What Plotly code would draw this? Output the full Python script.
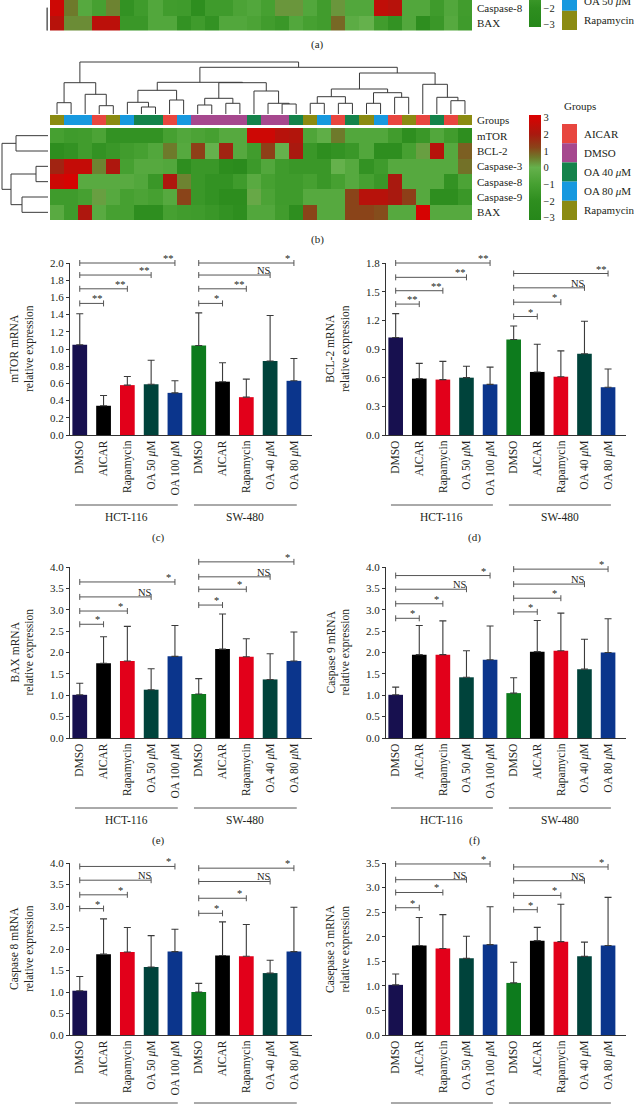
import plotly.graph_objects as go

W, H = 634, 1105
FONT = "Liberation Serif"
INK = "#231f20"

# ---------------- heatmap data ----------------
n_cols = 30
# (a) visible rows (top of figure is cropped)
genes_a = ["Caspase-8", "BAX"]
casp8_a = [2.8, 0.6, -0.5, -1.0, 0.5, -1.8, -1.3, -0.6, -1.2, -1.3, -2.0, -1.3, -1.3, -0.8, -0.6,
           -1.0, 0.3, 0.3, -0.6, -1.2, 0.3, -0.6, -0.6, 2.5, 2.3, -0.6, -0.6, -1.3, -0.6, -1.2]
bax_a = [2.3, 0.4, 0.4, 2.4, 2.4, -1.5, -1.5, -0.6, -0.6, -1.8, -1.3, -1.8, -0.6, -0.6, -0.8,
         -1.2, -1.5, -0.6, -1.0, -1.2, 0.8, -0.3, 0.0, -1.2, -1.8, -0.6, -2.0, -1.5, -0.5, -1.3]
group_names_a = ["AICAR", "DMSO", "OA 100 μM", "OA 50 μM", "Rapamycin"]

# (b)
genes_b = ["mTOR", "BCL-2", "Caspase-3", "Caspase-8", "Caspase-9", "BAX"]
group_names_b = ["AICAR", "DMSO", "OA 40 μM", "OA 80 μM", "Rapamycin"]
col_groups_b = [4, 3, 3, 0, 4, 3, 2, 2, 0, 3, 1, 1, 1, 1, 2, 1, 1, 2, 4, 3, 0, 2, 4, 3, 0, 4, 0, 2, 0, 4]
mtor_b = [-1.0, -1.3, -1.2, -0.8, -1.8, -1.8, -1.8, -1.8, -1.0, -0.6, -0.8, -1.0, -0.5, -0.5, 2.8,
          2.8, 2.3, 2.2, -0.7, -0.2, 0.6, -0.6, -0.6, -0.6, -1.2, -2.0, -1.5, -0.6, -1.2, -2.0]
bcl2_b = [-2.0, -1.8, -1.2, -1.8, -1.5, -1.2, -1.0, -0.6, 0.6, -0.5, 1.3, 0.0, 1.8, -0.5, -1.2,
          1.3, 0.0, 2.0, -1.5, -2.0, -1.8, -1.5, -0.6, -2.0, -2.0, -1.0, 0.2, 2.3, -0.5, 0.9]
casp3_b = [1.8, 2.6, 2.6, 0.5, 2.1, -1.0, -0.5, -0.5, -0.6, -2.0, -1.5, -1.5, -2.2, -2.5, -1.4,
           -0.6, -1.3, -1.5, -1.5, -1.5, 0.0, -0.5, -1.8, -1.3, -0.5, -0.5, -0.5, -0.5, -0.5, 0.7]
casp8_b = [2.8, 3.0, -0.4, -0.4, -0.4, -0.4, -0.6, -1.5, 2.1, 0.5, -1.5, -1.8, -1.8, -1.3, -0.4,
           -1.0, -1.3, -1.3, -1.0, -1.5, -1.0, -0.5, -1.0, -1.5, 2.0, -0.5, -0.5, -0.5, -1.8, -0.8]
casp9_b = [-1.3, -1.3, -1.0, 0.2, -0.5, -1.0, -0.8, -1.0, -0.5, 1.2, -1.5, -1.8, -2.2, -2.2, 0.1,
           -0.8, -1.3, -1.3, -0.5, -0.5, -0.5, 1.2, 2.3, 2.3, 2.0, 1.3, -0.5, -2.0, -2.0, -1.5]
bax_b = [-0.4, -1.3, 2.1, -0.4, -1.0, -1.0, -2.0, -2.0, -1.0, -1.2, -1.3, -1.5, -1.8, -2.0, -0.6,
         -0.6, -1.2, -2.0, 1.2, -0.5, -0.5, 1.2, 1.2, 1.1, -0.5, -0.5, 3.0, -0.5, -0.5, -0.5]

# dendrograms: (name, left, right, height)
col_tree_b = [
    ("A", 0, 1, 11.3), ("B", 3, 4, 8.3), ("C", 2, "B", 19.7), ("D", "A", "C", 31.3),
    ("E", 6, 7, 7.0), ("F", 5, "E", 11.7), ("G", 8, 9, 14.0), ("Hh", "F", "G", 23.7),
    ("I", 10, 11, 9.0), ("J", 12, 13, 10.7), ("K", "I", "J", 15.7),
    ("L", 16, 17, 10.0), ("M", 15, "L", 10.7), ("N", 14, "M", 23.0), ("O", "K", "N", 31.3),
    ("P", "Hh", "O", 31.7),
    ("Q", 18, 19, 10.7), ("R", 20, 21, 10.7), ("S", "Q", "R", 17.3),
    ("T", 22, 23, 10.7), ("U", 24, 25, 16.7), ("V", "T", "U", 21.3), ("Wn", "S", "V", 25.0),
    ("X", 28, 29, 13.3), ("Y", 27, "X", 16.7), ("Z", 26, "Y", 29.7), ("AA", "Wn", "Z", 41.0),
    ("BB", "P", "AA", 46.7), ("ROOT", "D", "BB", 52.0)]
row_tree_b = [("r1", 0, 1, 32), ("r2", 2, 3, 12), ("r3", 4, 5, 26),
              ("r4", "r2", "r3", 37), ("root", "r1", "r4", 46)]
row_tree_a = [("p", 0, 1, 30), ("q", "rows above (cropped)", "p", 36)]
row_leaves_a = {0: 0, 1: 1, "rows above (cropped)": -2.5}

# ---------------- bar chart data ----------------
categories = ["DMSO", "AICAR", "Rapamycin", "OA 50 μM", "OA 100 μM",
              "DMSO", "AICAR", "Rapamycin", "OA 40 μM", "OA 80 μM"]
cell_lines = ["HCT-116", "SW-480"]

mtor_mean = [1.05, 0.34, 0.58, 0.59, 0.49, 1.04, 0.62, 0.44, 0.86, 0.63]
mtor_upper = [1.41, 0.46, 0.68, 0.87, 0.63, 1.42, 0.84, 0.65, 1.39, 0.89]
mtor_sig = ["**", "**", "**", "**", "*", "**", "NS", "*"]
mtor_sig_y = [1.53, 1.70, 1.86, 2.00, 1.53, 1.70, 1.86, 2.00]

bcl2_mean = [1.02, 0.59, 0.58, 0.60, 0.53, 1.00, 0.66, 0.61, 0.85, 0.50]
bcl2_upper = [1.27, 0.75, 0.77, 0.72, 0.71, 1.14, 0.95, 0.88, 1.19, 0.69]
bcl2_sig = ["**", "**", "**", "**", "*", "*", "NS", "**"]
bcl2_sig_y = [1.37, 1.51, 1.65, 1.80, 1.24, 1.39, 1.54, 1.69]

bax_mean = [1.01, 1.75, 1.80, 1.13, 1.91, 1.03, 2.08, 1.90, 1.37, 1.80]
bax_upper = [1.28, 2.37, 2.61, 1.62, 2.63, 1.39, 2.90, 2.32, 1.97, 2.48]
bax_sig = ["*", "*", "NS", "*", "*", "*", "NS", "*"]
bax_sig_y = [2.66, 2.97, 3.30, 3.65, 3.11, 3.48, 3.77, 4.12]

casp9_mean = [1.01, 1.95, 1.95, 1.42, 1.83, 1.05, 2.02, 2.04, 1.61, 2.00]
casp9_upper = [1.19, 2.63, 2.74, 2.04, 2.62, 1.41, 2.75, 2.92, 2.31, 2.79]
casp9_sig = ["*", "*", "NS", "*", "*", "*", "NS", "*"]
casp9_sig_y = [2.80, 3.14, 3.48, 3.80, 2.95, 3.27, 3.60, 3.95]

casp8_mean = [1.03, 1.88, 1.93, 1.58, 1.94, 1.00, 1.85, 1.83, 1.44, 1.94]
casp8_upper = [1.36, 2.70, 2.50, 2.31, 2.46, 1.20, 2.63, 2.57, 1.74, 2.97]
casp8_sig = ["*", "*", "NS", "*", "*", "*", "NS", "*"]
casp8_sig_y = [2.94, 3.26, 3.60, 3.92, 2.83, 3.18, 3.57, 3.88]

casp3_mean = [1.02, 1.82, 1.76, 1.56, 1.84, 1.06, 1.92, 1.90, 1.60, 1.82]
casp3_upper = [1.24, 2.39, 2.45, 2.01, 2.61, 1.48, 2.19, 2.66, 1.89, 2.80]
casp3_sig = ["*", "*", "NS", "*", "*", "*", "NS", "*"]
casp3_sig_y = [2.59, 2.90, 3.16, 3.48, 2.55, 2.84, 3.14, 3.42]

# ---------------- styles / layout constants ----------------
group_colors_b = ["#e8463f", "#a6488e", "#15834b", "#1799df", "#8b8b12"]
group_colors_a = ["#e8463f", "#a6488e", "#15834b", "#1799df", "#8b8b12"]
bar_colors = ["#17104f", "#000000", "#e2001a", "#00433b", "#0b358c",
              "#0d7b1d", "#000000", "#e2001a", "#00433b", "#0b358c"]
ZMIN, ZMAX = -3.15, 3.15
cs_stops = [(-3.15, "#26871a"), (-2, "#2e8e1f"), (-1, "#46a031"), (0, "#65b14c"),
            (0.6, "#6e7a2b"), (1.2, "#8a4419"), (2, "#a9190f"), (3.15, "#dd0000")]
heat_cs = [[(v - ZMIN) / (ZMAX - ZMIN), c] for v, c in cs_stops]


def dxp(a, b):
    return [a / W, b / W]


def dyp(top, bottom):
    return [1 - bottom / H, 1 - top / H]


def pxx(a):
    return a / W


def pxy(t):
    return 1 - t / H


def tree_lines(tree, leaf_pos):
    pos = dict(leaf_pos)
    hgt = {k: 0.0 for k in leaf_pos}
    a, b = [], []
    for name, l, r, h in tree:
        a += [pos[l], pos[l], pos[r], pos[r], None]
        b += [hgt[l], h, h, hgt[r], None]
        pos[name] = (pos[l] + pos[r]) / 2
        hgt[name] = h
    return a, b


def ital(s):
    return s.replace("μ", "<i>μ</i>")


fig = go.Figure()
L = dict(width=W, height=H, margin=dict(l=0, r=0, t=0, b=0, pad=0, autoexpand=False),
         paper_bgcolor="white", plot_bgcolor="rgba(0,0,0,0)", showlegend=False,
         font=dict(family=FONT, color=INK, size=11))
shapes, annots = [], []
HID = dict(visible=False, fixedrange=True)

HX0, HX1 = 50, 472
DEN_COLOR = "#3a3a3a"
CB_X = 529
LEG_X0, LEG_X1, LEG_TX = 562, 577, 582
LAB_FS = 11
TICK_FS = 11
CAT_FS = 11.5
TITLE_FS = 11.5

# ---- (a) cropped heatmap ----
fig.add_trace(go.Heatmap(z=[casp8_a, bax_a], x=list(range(n_cols)), y=[0, 1],
                         zmin=ZMIN, zmax=ZMAX, colorscale=heat_cs, xaxis="x", yaxis="y",
                         hoverinfo="skip",
                         colorbar=dict(x=pxx(CB_X), xanchor="left", y=pxy(27), yanchor="bottom",
                                       len=105, lenmode="pixels", thickness=12,
                                       thicknessmode="pixels", outlinewidth=0, ypad=0, xpad=0,
                                       tickvals=[-3, -2, -1, 0, 1, 2, 3], ticks="",
                                       tickfont=dict(size=10.5, family=FONT, color=INK))))
L["xaxis"] = dict(HID, domain=dxp(HX0, HX1), range=[-0.5, n_cols - 0.5], anchor="y")
L["yaxis"] = dict(domain=dyp(0, 30.6), range=[1.5, -0.5], anchor="x", side="right",
                  tickvals=[0, 1], ticktext=genes_a, showgrid=False, zeroline=False,
                  showline=False, ticks="", ticklabelstandoff=4, fixedrange=True,
                  tickfont=dict(size=LAB_FS))
xs, ys = tree_lines(row_tree_a, row_leaves_a)
fig.add_trace(go.Scatter(x=xs, y=ys, mode="lines", line=dict(color=DEN_COLOR, width=1),
                         xaxis="x2", yaxis="y2", hoverinfo="skip"))
L["xaxis2"] = dict(HID, domain=dxp(0, 48), range=[48, 0], anchor="y2")
L["yaxis2"] = dict(HID, domain=dyp(0, 30.6), range=[1.5, -0.5], anchor="x2")

# legend (a) (cropped at top)
box_h = 19.2
for i, (nm, col) in enumerate(zip(group_names_a, group_colors_a)):
    t = 30 - (len(group_names_a) - i) * box_h
    shapes.append(dict(type="rect", xref="paper", yref="paper", x0=pxx(LEG_X0), x1=pxx(LEG_X1),
                       y0=pxy(t + box_h), y1=pxy(t), fillcolor=col, line=dict(width=0)))
    if t + box_h > 5:
        annots.append(dict(xref="paper", yref="paper", x=pxx(LEG_TX), y=pxy(t + box_h / 2),
                           text=ital(nm), xanchor="left", yanchor="middle", showarrow=False,
                           font=dict(size=LAB_FS)))
annots.append(dict(xref="paper", yref="paper", x=pxx(317), y=pxy(45), text="(a)",
                   xanchor="center", yanchor="middle", showarrow=False, font=dict(size=11)))

# ---- (b) ----
z_b = [mtor_b, bcl2_b, casp3_b, casp8_b, casp9_b, bax_b]
fig.add_trace(go.Heatmap(z=z_b, x=list(range(n_cols)), y=list(range(len(genes_b))),
                         zmin=ZMIN, zmax=ZMAX, colorscale=heat_cs, xaxis="x3", yaxis="y3",
                         hoverinfo="skip",
                         colorbar=dict(x=pxx(CB_X), xanchor="left", y=pxy(220), yanchor="bottom",
                                       len=105, lenmode="pixels", thickness=12,
                                       thicknessmode="pixels", outlinewidth=0, ypad=0, xpad=0,
                                       tickvals=[-3, -2, -1, 0, 1, 2, 3], ticks="",
                                       tickfont=dict(size=10.5, family=FONT, color=INK))))
L["xaxis3"] = dict(HID, domain=dxp(HX0, HX1), range=[-0.5, n_cols - 0.5], anchor="y3")
L["yaxis3"] = dict(domain=dyp(128, 220), range=[len(genes_b) - 0.5, -0.5], anchor="x3",
                   side="right", tickvals=list(range(len(genes_b))), ticktext=genes_b,
                   showgrid=False, zeroline=False, showline=False, ticks="",
                   ticklabelstandoff=4, fixedrange=True, tickfont=dict(size=LAB_FS))

ng = len(group_names_b)
grp_cs = []
for i, c in enumerate(group_colors_b):
    grp_cs += [[i / ng, c], [(i + 1) / ng, c]]
fig.add_trace(go.Heatmap(z=[col_groups_b], x=list(range(n_cols)), y=[0], zmin=-0.5,
                         zmax=ng - 0.5, colorscale=grp_cs, showscale=False,
                         xaxis="x4", yaxis="y4", hoverinfo="skip"))
L["xaxis4"] = dict(HID, domain=dxp(HX0, HX1), range=[-0.5, n_cols - 0.5], anchor="y4")
L["yaxis4"] = dict(domain=dyp(115, 125), range=[-0.5, 0.5], anchor="x4", side="right",
                   tickvals=[0], ticktext=["Groups"], showgrid=False, zeroline=False,
                   showline=False, ticks="", ticklabelstandoff=4, fixedrange=True,
                   tickfont=dict(size=LAB_FS))

xs, ys = tree_lines(col_tree_b, {i: i for i in range(n_cols)})
fig.add_trace(go.Scatter(x=xs, y=ys, mode="lines", line=dict(color=DEN_COLOR, width=1),
                         xaxis="x5", yaxis="y5", hoverinfo="skip"))
L["xaxis5"] = dict(HID, domain=dxp(HX0, HX1), range=[-0.5, n_cols - 0.5], anchor="y5")
L["yaxis5"] = dict(HID, domain=dyp(60, 114), range=[0, 54], anchor="x5")

ys_, xs_ = tree_lines(row_tree_b, {i: i for i in range(len(genes_b))})
fig.add_trace(go.Scatter(x=xs_, y=ys_, mode="lines", line=dict(color=DEN_COLOR, width=1),
                         xaxis="x6", yaxis="y6", hoverinfo="skip"))
L["xaxis6"] = dict(HID, domain=dxp(0, 48), range=[48, 0], anchor="y6")
L["yaxis6"] = dict(HID, domain=dyp(128, 220), range=[len(genes_b) - 0.5, -0.5], anchor="x6")

annots.append(dict(xref="paper", yref="paper", x=pxx(LEG_X0), y=pxy(106), text="Groups",
                   xanchor="left", yanchor="middle", showarrow=False, font=dict(size=LAB_FS)))
for i, (nm, col) in enumerate(zip(group_names_b, group_colors_b)):
    t = 124 + i * box_h
    shapes.append(dict(type="rect", xref="paper", yref="paper", x0=pxx(LEG_X0), x1=pxx(LEG_X1),
                       y0=pxy(t + box_h), y1=pxy(t), fillcolor=col, line=dict(width=0)))
    annots.append(dict(xref="paper", yref="paper", x=pxx(LEG_TX), y=pxy(t + box_h / 2),
                       text=ital(nm), xanchor="left", yanchor="middle", showarrow=False,
                       font=dict(size=LAB_FS)))
annots.append(dict(xref="paper", yref="paper", x=pxx(317), y=pxy(239), text="(b)",
                   xanchor="center", yanchor="middle", showarrow=False, font=dict(size=11)))

# ---- bar panels ----
panels = [
    ("(c)", "mTOR mRNA", mtor_mean, mtor_upper, mtor_sig, mtor_sig_y, 2.0, 0.2, 70, 312, 263, 435),
    ("(d)", "BCL-2 mRNA", bcl2_mean, bcl2_upper, bcl2_sig, bcl2_sig_y, 1.8, 0.3, 386, 626, 263, 435),
    ("(e)", "BAX mRNA", bax_mean, bax_upper, bax_sig, bax_sig_y, 4.0, 0.5, 70, 312, 567, 738),
    ("(f)", "Caspase 9 mRNA", casp9_mean, casp9_upper, casp9_sig, casp9_sig_y, 4.0, 0.5, 386, 626, 567, 738),
    ("(g)", "Caspase 8 mRNA", casp8_mean, casp8_upper, casp8_sig, casp8_sig_y, 4.0, 0.5, 70, 312, 863, 1035),
    ("(h)", "Casepase 3 mRNA", casp3_mean, casp3_upper, casp3_sig, casp3_sig_y, 3.5, 0.5, 386, 626, 863, 1035),
]
XR = [-0.41, 9.76]
n_cat = len(categories)
per_line = n_cat // len(cell_lines)
for k, (lab, ttl, mean, upper, sig, sig_y, ymax, dt, x0, x1, top, bot) in enumerate(panels):
    ax = 7 + k
    bax_i = 13 + k
    xa, ya, yb = f"x{ax}", f"y{ax}", f"y{bax_i}"
    errs = [u - m for u, m in zip(upper, mean)]
    fig.add_trace(go.Bar(x=list(range(n_cat)), y=mean, width=0.62,
                         marker=dict(color=bar_colors, line=dict(width=0)),
                         error_y=dict(type="data", symmetric=False, array=errs,
                                      arrayminus=[0] * n_cat, color="#3b3b3b",
                                      thickness=1.1, width=3.5),
                         xaxis=xa, yaxis=ya, hoverinfo="skip"))
    L[f"xaxis{ax}"] = dict(domain=dxp(x0, x1), range=XR, anchor=ya, showgrid=False,
                           zeroline=False, showline=True, linecolor="#333", linewidth=1,
                           ticks="", tickvals=list(range(n_cat)),
                           ticktext=[ital(c) for c in categories], tickangle=-90,
                           tickfont=dict(size=CAT_FS), fixedrange=True)
    L[f"yaxis{ax}"] = dict(domain=dyp(top, bot), range=[0, ymax], anchor=xa, showgrid=False,
                           zeroline=False, showline=True, linecolor="#333", linewidth=1,
                           ticks="outside", ticklen=3, tickcolor="#333", dtick=dt, tick0=0,
                           tickformat=".1f", tickfont=dict(size=TICK_FS), fixedrange=True)
    # bracket axis: same scale as the bar axis, extended upward so brackets are not clipped
    ph = bot - top
    extra = 30
    L[f"yaxis{bax_i}"] = dict(HID, domain=dyp(top - extra, bot),
                              range=[0, ymax * (ph + extra) / ph], anchor=xa)
    d = 3.0 * ymax / ph
    bx, by = [], []
    for g in range(len(cell_lines)):
        base = g * per_line
        for j in range(per_line - 1):
            s_lab = sig[g * (per_line - 1) + j]
            lev = sig_y[g * (per_line - 1) + j]
            tgt = base + j + 1
            bx += [base, base, None, base, tgt, None, tgt, tgt, None]
            by += [lev - d, lev + d, None, lev, lev, None, lev - d, lev + d, None]
            annots.append(dict(xref=xa, yref=yb, x=tgt - 0.27, y=lev, text=s_lab,
                               xanchor="center", yanchor="bottom", yshift=-3,
                               showarrow=False, font=dict(size=10.5)))
        # cell line underline and name
        uy = min(bot + 70, H - 2)
        shapes.append(dict(type="line", xref=xa, yref="paper", x0=base - 0.2,
                           x1=base + per_line - 1 + 0.12, y0=pxy(uy), y1=pxy(uy),
                           line=dict(color="#555", width=1)))
        if bot + 90 < H:
            annots.append(dict(xref=xa, yref="paper", x=base + (per_line - 1) / 2 - 0.04,
                               y=pxy(bot + 82), text=cell_lines[g], showarrow=False,
                               xanchor="center", yanchor="middle", font=dict(size=11.5)))
    fig.add_trace(go.Scatter(x=bx, y=by, mode="lines", line=dict(color="#555", width=1),
                             xaxis=xa, yaxis=yb, hoverinfo="skip"))
    annots.append(dict(xref="paper", yref="paper", x=pxx(x0 - 48), y=pxy((top + bot) / 2),
                       text=f"{ttl}<br>relative expression", textangle=-90, showarrow=False,
                       xanchor="center", yanchor="middle", font=dict(size=TITLE_FS)))
    if bot + 110 < H:
        annots.append(dict(xref="paper", yref="paper", x=pxx(x0 + 88), y=pxy(bot + 102),
                           text=lab, showarrow=False, xanchor="center", yanchor="middle",
                           font=dict(size=11)))

L["shapes"] = shapes
L["annotations"] = annots
fig.update_layout(**L)
fig.write_html("out.html", config={"displayModeBar": False},
               post_script="document.body.style.margin='0';")
